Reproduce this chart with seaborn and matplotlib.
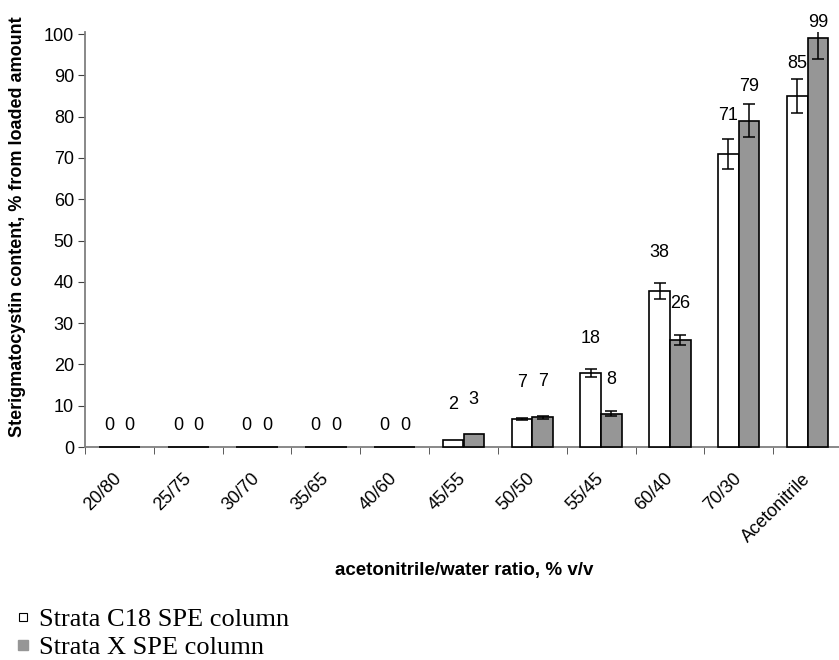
import matplotlib
matplotlib.use("Agg")
import matplotlib.pyplot as plt
from matplotlib.lines import Line2D
from matplotlib.patches import Rectangle
import seaborn as sns
import pandas as pd

categories = ["20/80", "25/75", "30/70", "35/65", "40/60", "45/55", "50/50",
              "55/45", "60/40", "70/30", "Acetonitrile"]
series_names = ["Strata C18 SPE column", "Strata X SPE column"]
c18_values = [0, 0, 0, 0, 0, 1.7, 6.8, 17.9, 37.8, 71, 85]
x_values = [0, 0, 0, 0, 0, 3.1, 7.2, 8, 26, 79, 99]
c18_err = [0, 0, 0, 0, 0, 0, 0.3, 1.0, 2.0, 3.7, 4.2]
x_err = [0, 0, 0, 0, 0, 0, 0.3, 0.6, 1.2, 4.0, 5.0]
c18_labels = ["0", "0", "0", "0", "0", "2", "7", "18", "38", "71", "85"]
x_labels = ["0", "0", "0", "0", "0", "3", "7", "8", "26", "79", "99"]
yticks = [0, 10, 20, 30, 40, 50, 60, 70, 80, 90, 100]

# label offset above bar top (pixels) - styling only
c18_offsets = [22, 22, 22, 22, 22, 35, 36, 35, 38, 38, 33]
x_offsets = [22, 22, 22, 22, 22, 35, 36, 34, 36, 34, 16]

sns.set_style("white")
plt.rcParams["font.family"] = ["Liberation Sans", "DejaVu Sans"]
plt.rcParams["text.color"] = "black"
plt.rcParams["axes.labelcolor"] = "black"
plt.rcParams["xtick.color"] = "black"
plt.rcParams["ytick.color"] = "black"

df = pd.DataFrame({
    "cat": categories * 2,
    "series": [series_names[0]] * len(categories) + [series_names[1]] * len(categories),
    "value": c18_values + x_values,
})

fig = plt.figure(figsize=(8.39, 6.6), dpi=100)
ax = fig.add_axes([85 / 839, 1 - 447 / 660, 757 / 839, (447 - 32) / 660])

gray = "#969696"
sns.barplot(data=df, x="cat", y="value", hue="series", order=categories,
            hue_order=series_names, palette={series_names[0]: "white", series_names[1]: gray},
            edgecolor="black", linewidth=1.2, width=0.6, errorbar=None, ax=ax,
            legend=False, saturation=1)

bars = sorted([p for p in ax.patches if isinstance(p, Rectangle)], key=lambda p: p.get_x())
errs = [c18_err, x_err]
labs = [c18_labels, x_labels]
offs = [c18_offsets, x_offsets]
for k, bar in enumerate(bars):
    bar.set_zorder(3)
    bar.set_clip_on(False)
    i, ci = k // 2, k % 2
    cx = bar.get_x() + bar.get_width() / 2
    h = bar.get_height()
    e = errs[ci][i]
    if e > 0:
        ax.errorbar(cx, h, yerr=e, fmt="none", ecolor="black", elinewidth=1.1,
                    capsize=4, capthick=1.1, zorder=5)
    ax.annotate(labs[ci][i], (cx, h), xytext=(0, offs[ci][i] * 0.72),
                textcoords="offset points", ha="center", va="center",
                fontsize=13, annotation_clip=False)

ax.set_xlim(-0.5, 10.5)
ax.set_ylim(0, 100.5)
ax.set_yticks(yticks)
ax.set_yticklabels([str(t) for t in yticks], fontsize=13)
ax.set_xticks(range(len(categories)))
ax.set_xticklabels(categories, rotation=45, ha="right", va="center",
                   rotation_mode="anchor", fontsize=13)
ax.set_xticks([i + 0.5 for i in range(-1, len(categories))], minor=True)
ax.tick_params(axis="x", which="major", length=0, pad=21)
ax.tick_params(axis="x", which="minor", length=5, color="#404040", direction="out", bottom=True)
ax.tick_params(axis="y", length=5, color="#404040", direction="out", left=True, pad=3)

for s in ["top", "right"]:
    ax.spines[s].set_visible(False)
for s in ["left", "bottom"]:
    ax.spines[s].set_color("#7f7f7f")
    ax.spines[s].set_linewidth(1.3)

ax.set_xlabel("")
ax.set_ylabel("")
fig.text(18 / 839, 1 - 227 / 660, "Sterigmatocystin content, % from loaded amount",
         rotation=90, ha="center", va="center", fontsize=13, fontweight="bold")
fig.text(464 / 839, 1 - 570 / 660, "acetonitrile/water ratio, % v/v", ha="center",
         va="center", fontsize=13.5, fontweight="bold")

handles = [
    Line2D([], [], marker="s", linestyle="none", markersize=6, markerfacecolor="white",
           markeredgecolor="black", markeredgewidth=0.8),
    Line2D([], [], marker="s", linestyle="none", markersize=7.5, markerfacecolor=gray,
           markeredgecolor=gray),
]
fig.legend(handles, series_names, loc="upper left", bbox_to_anchor=(11 / 839, 1 - 608 / 660),
           frameon=False, prop={"family": "Liberation Serif", "size": 19},
           handlelength=0.9, handletextpad=0.15, labelspacing=0.15, borderaxespad=0,
           borderpad=0)

fig.savefig("out.png", dpi=100)
